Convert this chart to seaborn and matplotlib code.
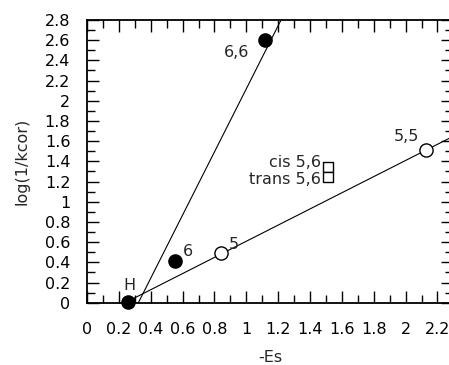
"""log(1/kcor) against -Es for the substituted compounds, with two linear fits."""
import matplotlib
matplotlib.use("Agg")
import matplotlib.pyplot as plt
from matplotlib.ticker import FixedLocator, MultipleLocator
import pandas as pd
import seaborn as sns

# points: label, -Es, log(1/kcor), marker kind
labels = ["H", "6", "6,6", "5", "5,5", "cis 5,6", "trans 5,6"]
es = [0.26, 0.553, 1.12, 0.84, 2.13, 1.51, 1.51]
logk = [0.01, 0.41, 2.60, 0.49, 1.51, 1.34, 1.245]
kind = ["filled", "filled", "filled", "open", "open", "square", "square"]

# points used by each fitted line
steep_fit = ["H", "6", "6,6"]
shallow_fit = ["H", "5", "5,5"]

x_ticks = [0, 0.2, 0.4, 0.6, 0.8, 1, 1.2, 1.4, 1.6, 1.8, 2, 2.2]
x_ticklabels = ["0", "0.2", "0.4", "0.6", "0.8", "1", "1.2", "1.4", "1.6", "1.8", "2", "2.2"]
y_ticks = [0, 0.2, 0.4, 0.6, 0.8, 1, 1.2, 1.4, 1.6, 1.8, 2, 2.2, 2.4, 2.6, 2.8]
y_ticklabels = ["0", "0.2", "0.4", "0.6", "0.8", "1", "1.2", "1.4", "1.6", "1.8", "2",
                "2.2", "2.4", "2.6", "2.8"]

# label placement (offset in points from the marker, horizontal alignment)
LABEL_POS = {
    "H": ((1, 12), "center"),
    "6": ((9, 7), "center"),
    "6,6": ((-21, -9), "center"),
    "5": ((9, 6), "center"),
    "5,5": ((-14, 10), "center"),
    "cis 5,6": ((-5, 3.5), "right"),
    "trans 5,6": ((-5, -1.5), "right"),
}

MARKERS = {
    "filled": dict(marker="o", s=90, color="black", edgecolor="black"),
    "open": dict(marker="o", s=90, color="white", edgecolor="black"),
    "square": dict(marker="s", s=62, color="white", edgecolor="black"),
}

FS = 11.5


def main():
    df = pd.DataFrame({"label": labels, "es": es, "logk": logk, "kind": kind})

    sns.set_style("ticks")
    plt.rcParams["font.family"] = ["DejaVu Sans"]
    plt.rcParams["font.size"] = FS

    fig = plt.figure(figsize=(4.49, 3.65), dpi=100)
    ax = fig.add_axes([0.1938, 0.1707, 0.816, 0.7745])
    ax.set_xlim(0, 2.3)
    ax.set_ylim(0, 2.8)

    # regression lines run across the whole axes
    for group in (steep_fit, shallow_fit):
        sub = df[df["label"].isin(group)]
        sns.regplot(data=sub, x="es", y="logk", ax=ax, ci=None, scatter=False,
                    truncate=False, color="black", line_kws={"lw": 0.8, "zorder": 2})

    for k, style in MARKERS.items():
        sub = df[df["kind"] == k]
        sns.scatterplot(data=sub, x="es", y="logk", ax=ax, linewidth=1.0,
                        zorder=3, clip_on=False, legend=False, **style)

    for _, row in df.iterrows():
        offset, ha = LABEL_POS[row["label"]]
        ax.annotate(row["label"], (row["es"], row["logk"]), xytext=offset,
                    textcoords="offset points", ha=ha, va="center", fontsize=FS)

    ax.set_xlim(0, 2.3)
    ax.set_ylim(0, 2.8)
    ax.xaxis.set_major_locator(FixedLocator(x_ticks))
    ax.set_xticklabels(x_ticklabels)
    ax.yaxis.set_major_locator(FixedLocator(y_ticks))
    ax.set_yticklabels(y_ticklabels)
    ax.xaxis.set_minor_locator(MultipleLocator(0.1))
    ax.yaxis.set_minor_locator(MultipleLocator(0.1))
    ax.tick_params(which="both", direction="in", top=True, right=True,
                   width=1.0, colors="black", labelsize=FS)
    ax.tick_params(which="major", length=8.5)
    ax.tick_params(which="minor", length=5.5)
    ax.tick_params(axis="x", which="major", pad=14)
    ax.tick_params(axis="y", which="major", pad=12)
    for spine in ax.spines.values():
        spine.set_linewidth(1.3)
        spine.set_color("black")

    ax.set_xlabel("-Es", labelpad=9)
    ax.set_ylabel("log(1/kcor)", labelpad=11)

    fig.savefig("out.png", dpi=100)
    plt.close(fig)


if __name__ == "__main__":
    main()
